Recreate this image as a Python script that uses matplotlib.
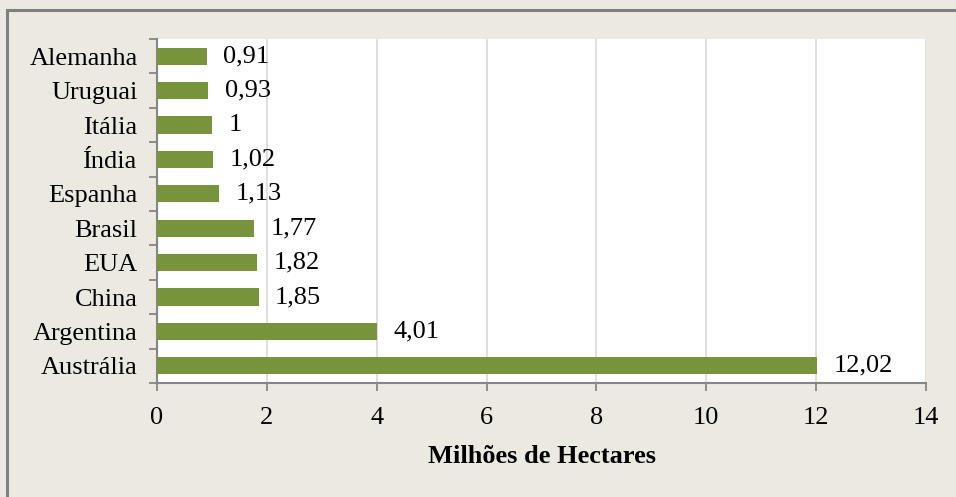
import matplotlib
matplotlib.use("Agg")
import matplotlib.pyplot as plt
from matplotlib.patches import Rectangle
import numpy as np

plt.rcParams["font.family"] = ["Liberation Serif", "DejaVu Serif"]

countries = ["Austrália", "Argentina", "China", "EUA", "Brasil",
             "Espanha", "Índia", "Itália", "Uruguai", "Alemanha"]
hectares = [12.02, 4.01, 1.85, 1.82, 1.77, 1.13, 1.02, 1.0, 0.93, 0.91]
value_labels = ["12,02", "4,01", "1,85", "1,82", "1,77",
                "1,13", "1,02", "1", "0,93", "0,91"]
x_ticks = [0, 2, 4, 6, 8, 10, 12, 14]

BG = "#ECEAE0"
BAR = "#77933C"
AXIS = "#868686"
GRID = "#D9D9D9"
FS = 19

fig = plt.figure(figsize=(9.56, 4.97), dpi=100, facecolor=BG)
# outer frame (only top and left edges are visible in the crop)
fig.add_artist(Rectangle((7 / 956, -0.05), 1.2, 1 - 9.5 / 497 + 0.05,
                         transform=fig.transFigure, fill=False,
                         edgecolor="#808080", linewidth=2.2))

ax = fig.add_axes([157 / 956, 1 - 383 / 497, (926 - 157) / 956, (383 - 39) / 497])
ax.set_facecolor("white")

y = np.arange(len(countries))
ax.barh(y, hectares, height=0.5, color=BAR, zorder=3)
for yi, v, lab in zip(y, hectares, value_labels):
    ax.text(v + 0.3, yi, lab, va="center", ha="left", fontsize=FS, zorder=4)

ax.set_xlim(0, 14)
ax.set_ylim(-0.5, len(countries) - 0.5)
ax.set_xticks(x_ticks)
ax.set_xticklabels([str(t) for t in x_ticks], fontsize=FS)
ax.set_yticks(y)
ax.set_yticklabels(countries, fontsize=FS)
ax.set_yticks(np.arange(-0.5, len(countries), 1.0), minor=True)
ax.tick_params(axis="y", which="major", length=0, pad=14)
ax.tick_params(axis="y", which="minor", length=6, width=1.3, color=AXIS, direction="out")
ax.tick_params(axis="x", which="major", length=6, width=1.3, color=AXIS, pad=11)

ax.xaxis.grid(True, color=GRID, linewidth=1.2, zorder=0)
ax.set_axisbelow(True)
for side in ("top", "right"):
    ax.spines[side].set_visible(False)
for side in ("left", "bottom"):
    ax.spines[side].set_color(AXIS)
    ax.spines[side].set_linewidth(1.5)

ax.set_xlabel("Milhões de Hectares", fontsize=FS, fontweight="bold", labelpad=12)

fig.savefig("out.png", dpi=100, facecolor=BG)
